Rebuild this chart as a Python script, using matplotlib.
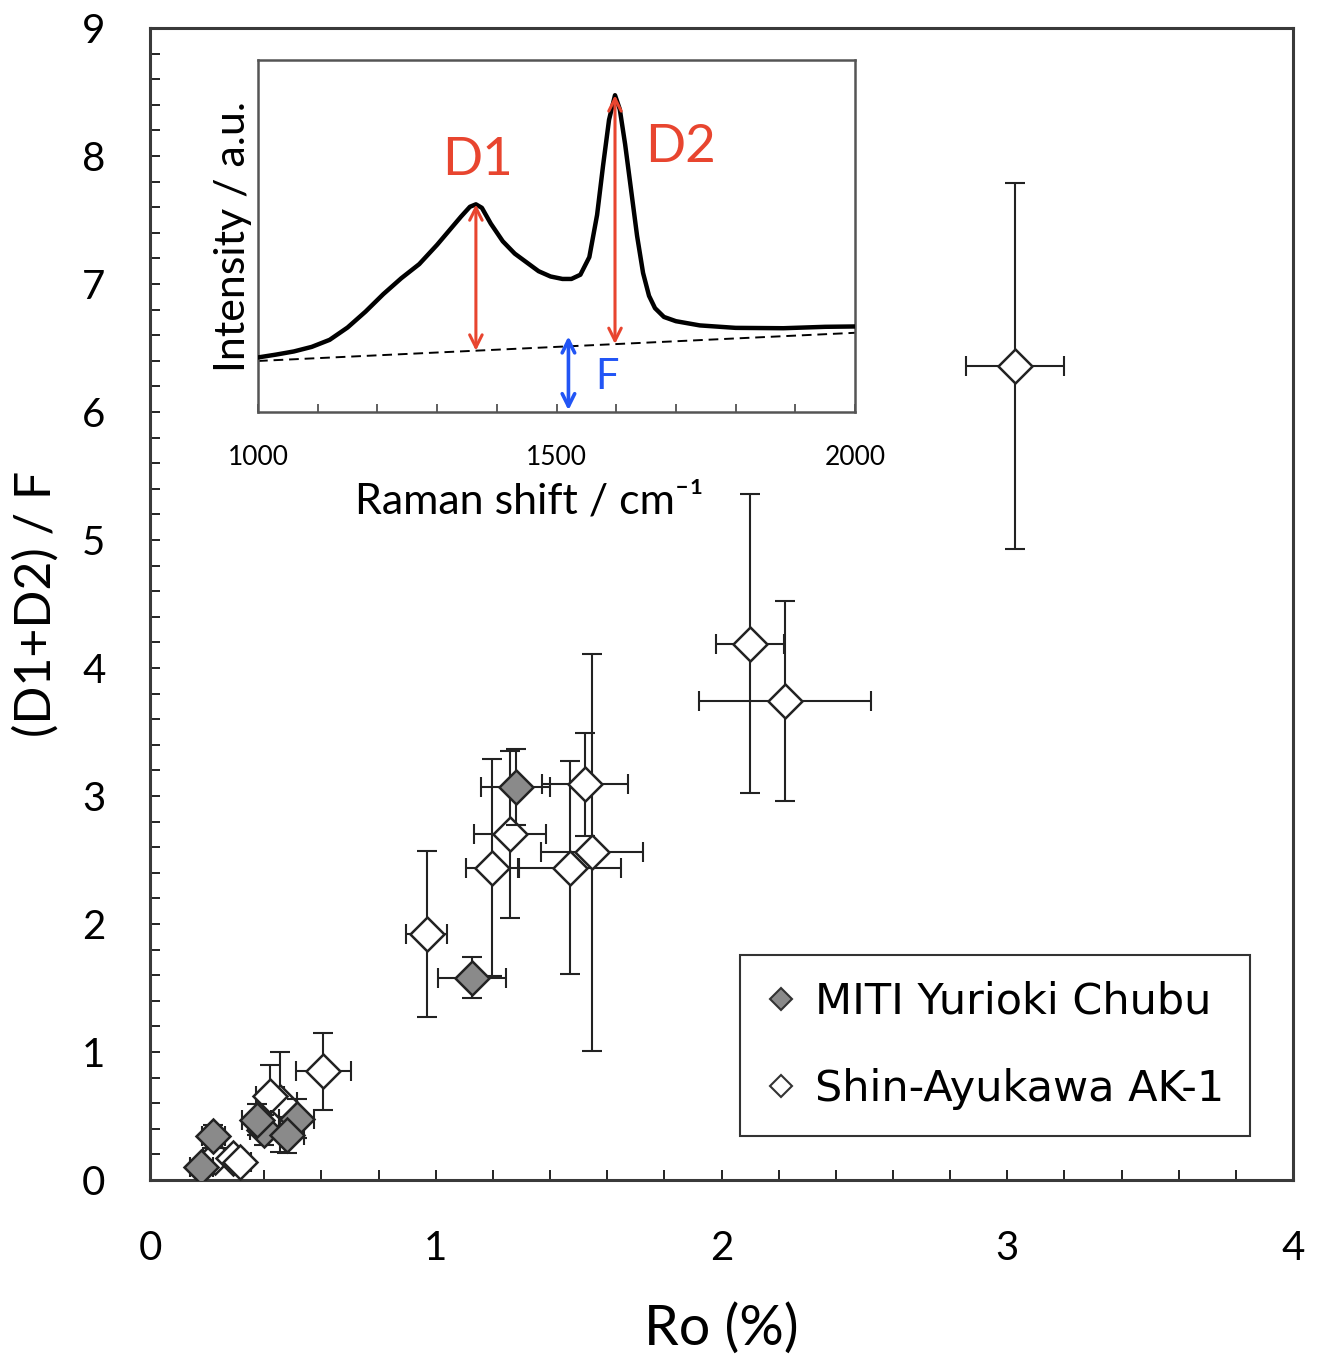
import matplotlib
matplotlib.use('Agg')
import matplotlib.pyplot as plt
from matplotlib.lines import Line2D
from matplotlib.ticker import MultipleLocator

# ---- main data: Ro (%) vs (D1+D2)/F ----
miti_ro    = [1.280, 1.127, 0.513, 0.400, 0.478, 0.373, 0.222, 0.180]
miti_ratio = [3.07, 1.58, 0.48, 0.39, 0.35, 0.47, 0.34, 0.10]
miti_xerr  = [0.12, 0.12, 0.06, 0.05, 0.06, 0.05, 0.04, 0.04]
miti_yerr  = [0.30, 0.16, 0.15, 0.12, 0.14, 0.12, 0.09, 0.06]

shin_ro    = [3.027, 2.100, 2.222, 1.522, 1.260, 1.197, 1.470, 1.547, 0.969,
              0.607, 0.455, 0.420, 0.227, 0.290, 0.315]
shin_ratio = [6.36, 4.19, 3.74, 3.09, 2.70, 2.44, 2.44, 2.56, 1.92,
              0.85, 0.61, 0.66, 0.18, 0.17, 0.14]
shin_xerr  = [0.17, 0.12, 0.30, 0.15, 0.127, 0.09, 0.18, 0.18, 0.072,
              0.096, 0.06, 0.05, 0.04, 0.04, 0.04]
shin_yerr  = [1.43, 1.17, 0.78, 0.40, 0.65, 0.85, 0.83, 1.55, 0.65,
              0.30, 0.39, 0.24, 0.07, 0.06, 0.06]

series_labels = ['MITI Yurioki Chubu', 'Shin-Ayukawa AK-1']

# ---- inset data: Raman spectrum ----
ram_shift = [1000, 1030, 1060, 1090, 1120, 1150, 1180, 1210, 1240, 1270, 1300,
             1320, 1340, 1355, 1365, 1375, 1390, 1410, 1430, 1450, 1470, 1490,
             1510, 1525, 1540, 1555, 1568, 1578, 1588, 1598, 1606, 1615, 1625,
             1635, 1645, 1655, 1665, 1680, 1700, 1740, 1800, 1880, 1950, 2000]
ram_int   = [15.5, 16.3, 17.2, 18.5, 20.5, 24.0, 28.5, 33.5, 38.0, 42.0, 47.5,
             51.5, 55.5, 58.3, 59.0, 58.0, 53.5, 48.5, 45.0, 42.5, 40.0, 38.5,
             37.8, 37.8, 39.0, 44.0, 56.0, 70.0, 83.0, 90.0, 86.0, 76.0, 63.0,
             50.0, 39.5, 33.0, 29.5, 27.0, 25.8, 24.6, 23.9, 23.8, 24.2, 24.3]
base_shift = [1000, 2000]
base_int   = [14.5, 22.5]
d1_pos, d1_lo, d1_hi = 1365, 17.4, 59.0
d2_pos, d2_lo, d2_hi = 1598, 19.3, 90.0
f_pos, f_lo, f_hi = 1520, 0.5, 21.5

FONT = ['Lato', 'DejaVu Sans']
W, H = 1317, 1356
fig = plt.figure(figsize=(W / 100, H / 100), dpi=100)

def fx(px):
    return px / W

def fy(py):
    return 1 - py / H

ax = fig.add_axes([fx(150), fy(1180), fx(1293) - fx(150), fy(28) - fy(1180)])
ax.set_xlim(0, 4)
ax.set_ylim(0, 9)

spine_col = '#3a3a3a'
for s in ax.spines.values():
    s.set_color(spine_col)
    s.set_linewidth(2.2)

ax.xaxis.set_major_locator(MultipleLocator(1))
ax.xaxis.set_minor_locator(MultipleLocator(0.2))
ax.yaxis.set_major_locator(MultipleLocator(1))
ax.yaxis.set_minor_locator(MultipleLocator(0.2))
ax.tick_params(which='both', direction='in', length=7, width=1.4, color='#222222',
               top=False, right=False)
ax.tick_params(axis='x', which='major', pad=36, labelsize=29)
ax.tick_params(axis='y', which='major', pad=32, labelsize=29)
for lab in ax.get_xticklabels() + ax.get_yticklabels():
    lab.set_family(FONT)

ax.set_xlabel('Ro (%)', fontsize=40, family=FONT, labelpad=26)
ax.set_ylabel('(D1+D2) / F', fontsize=36, family=FONT, labelpad=16)

ebkw = dict(fmt='none', ecolor='#222222', elinewidth=1.5, capsize=7, capthick=1.5)
ax.errorbar(shin_ro, shin_ratio, xerr=shin_xerr, yerr=shin_yerr, zorder=2, **ebkw)
ax.plot(shin_ro, shin_ratio, 'D', ms=17, mfc='white', mec='#222222', mew=1.8,
        zorder=3, linestyle='none')
ax.errorbar(miti_ro, miti_ratio, xerr=miti_xerr, yerr=miti_yerr, zorder=4, **ebkw)
ax.plot(miti_ro, miti_ratio, 'D', ms=17, mfc='#8a8a8a', mec='#222222', mew=1.8,
        zorder=5, linestyle='none')

handles = [Line2D([], [], marker='D', ms=11, mfc='#8a8a8a', mec='#333333', mew=1.5, ls='none'),
           Line2D([], [], marker='D', ms=11, mfc='white', mec='#333333', mew=1.5, ls='none')]
leg = ax.legend(handles, series_labels, loc='upper left',
                bbox_to_anchor=(fx(740), fy(955)), bbox_transform=fig.transFigure,
                borderaxespad=0, fancybox=False, edgecolor='#333333', framealpha=1,
                prop={'family': 'DejaVu Sans', 'size': 31}, handlelength=0.7,
                handletextpad=0.45, labelspacing=1.05, borderpad=0.6)
leg.get_frame().set_linewidth(1.5)

# ---- inset ----
ins = fig.add_axes([fx(258), fy(412), fx(855) - fx(258), fy(60) - fy(412)])
ins.set_xlim(1000, 2000)
ins.set_ylim(0, 100)
for s in ins.spines.values():
    s.set_color('#555555')
    s.set_linewidth(1.8)
ins.xaxis.set_major_locator(MultipleLocator(500))
ins.xaxis.set_minor_locator(MultipleLocator(100))
ins.tick_params(axis='x', which='both', direction='in', length=6, width=1.2,
                labelsize=19, pad=24, color='#444444')
ins.tick_params(axis='y', which='both', left=False, labelleft=False)
for lab in ins.get_xticklabels():
    lab.set_family(FONT)
ins.set_xlabel('Raman shift / cm⁻¹', fontsize=31, family=FONT, labelpad=12)
ins.xaxis.set_label_coords(0.455, -0.2)
ins.set_ylabel('Intensity / a.u.', fontsize=31, family=FONT, labelpad=4)

ins.plot(ram_shift, ram_int, color='black', lw=3.2, zorder=3)
ins.plot(base_shift, base_int, color='black', lw=1.4, ls=(0, (5, 3)), zorder=2)

red = '#E8452F'
blue = '#2255F5'
akw = dict(arrowstyle='<->,head_length=0.9,head_width=0.45', lw=2.2, shrinkA=0, shrinkB=0)
ins.annotate('', xy=(d1_pos, d1_hi), xytext=(d1_pos, d1_lo),
             arrowprops=dict(color=red, **akw), zorder=4)
ins.annotate('', xy=(d2_pos, d2_hi), xytext=(d2_pos, d2_lo),
             arrowprops=dict(color=red, **akw), zorder=4)
ins.annotate('', xy=(f_pos, f_hi), xytext=(f_pos, f_lo),
             arrowprops=dict(color=blue, **dict(akw, lw=2.6)), zorder=4)
ins.text(1368, 71.5, 'D1', color=red, fontsize=38, family=FONT, ha='center', va='center')
ins.text(1707, 75, 'D2', color=red, fontsize=38, family=FONT, ha='center', va='center')
ins.text(1585, 10, 'F', color=blue, fontsize=30, family=FONT, ha='center', va='center')

fig.savefig('out.png', dpi=100)
